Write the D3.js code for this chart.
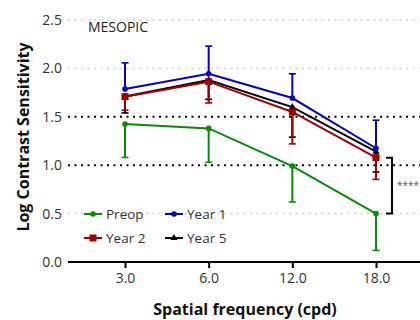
<!DOCTYPE html>
<html>
<head>
<meta charset="utf-8">
<script src="https://cdn.jsdelivr.net/npm/d3@7"></script>
<style>
  body { margin: 0; background: #fff; }
  text { font-family: "Open Sans", sans-serif; }
</style>
</head>
<body>
<script>
var svg_Width = 420;
var svg_Height = 320;

// data
var freqs = ["3.0", "6.0", "12.0", "18.0"];
var yTicks = [0, 0.5, 1.0, 1.5, 2.0, 2.5];
var preop = [1.425, 1.38, 0.99, 0.50];
var preopErr = [0.345, 0.35, 0.37, 0.38];
var year1 = [1.787, 1.945, 1.694, 1.175];
var year1Err = [0.27, 0.285, 0.25, 0.29];
var year2 = [1.708, 1.863, 1.55, 1.078];
var year2Err = [0.14, 0.22, 0.33, 0.225];
var year5 = [1.71, 1.88, 1.60, 1.14];
var year5Err = [0.17, 0.20, 0.31, 0.21];

var series = [
  { name: "Preop", vals: preop, err: preopErr, dir: -1, color: "#0a8a0a", shape: "circle" },
  { name: "Year 5", vals: year5, err: year5Err, dir: -1, color: "#000000", shape: "triangle" },
  { name: "Year 2", vals: year2, err: year2Err, dir: -1, color: "#a00000", shape: "square" },
  { name: "Year 1", vals: year1, err: year1Err, dir: 1, color: "#0000c8", shape: "circle" }
];

var svg = d3.select("body")
  .append("svg")
  .attr("width", svg_Width)
  .attr("height", svg_Height);

var x = d3.scaleLinear().domain([0, 3]).range([125, 376]);
var y = d3.scaleLinear().domain([0, 2.5]).range([262, 20]);
var plotLeft = 68, plotRight = 420;

// grid lines
svg.append("g").selectAll("line")
  .data(yTicks.filter(d => d > 0))
  .enter().append("line")
  .attr("x1", plotLeft).attr("x2", plotRight)
  .attr("y1", d => y(d)).attr("y2", d => y(d))
  .attr("stroke", d => (d === 1.0 || d === 1.5) ? "#000" : "#dcdcdc")
  .attr("stroke-width", 2)
  .attr("stroke-dasharray", "2,4.5");

// y tick labels
svg.append("g").selectAll("text")
  .data(yTicks)
  .enter().append("text")
  .attr("x", 62).attr("y", d => y(d))
  .attr("dy", "0.35em")
  .attr("text-anchor", "end")
  .attr("font-size", 14)
  .attr("fill", "#333")
  .text(d => d.toFixed(1));

// x axis
var xAxis = d3.axisBottom(x)
  .tickValues([0, 1, 2, 3])
  .tickFormat(i => freqs[i])
  .tickSize(6)
  .tickSizeOuter(0);
var gx = svg.append("g")
  .attr("transform", `translate(0, ${y(0)})`)
  .call(xAxis);
gx.select(".domain").remove();
gx.append("line")
  .attr("x1", plotLeft).attr("x2", plotRight)
  .attr("stroke", "#000").attr("stroke-width", 2);
gx.selectAll(".tick line").attr("stroke-width", 2);
gx.selectAll(".tick text")
  .attr("font-family", "Open Sans, sans-serif")
  .attr("font-size", 14)
  .attr("fill", "#333")
  .attr("y", 11);

// axis titles
svg.append("text")
  .attr("transform", "rotate(-90)")
  .attr("x", -137).attr("y", 29)
  .attr("text-anchor", "middle")
  .attr("font-size", 16)
  .attr("font-weight", "bold")
  .attr("fill", "#111")
  .text("Log Contrast Sensitivity");

svg.append("text")
  .attr("x", 245).attr("y", 315)
  .attr("text-anchor", "middle")
  .attr("font-size", 16)
  .attr("font-weight", "bold")
  .attr("fill", "#111")
  .text("Spatial frequency (cpd)");

svg.append("text")
  .attr("x", 88).attr("y", 27)
  .attr("dy", "0.35em")
  .attr("font-size", 14)
  .attr("fill", "#222")
  .text("MESOPIC");

function drawMarker(g, shape, cx, cy, color) {
  if (shape === "circle") {
    g.append("circle").attr("cx", cx).attr("cy", cy).attr("r", 2.8).attr("fill", color);
  } else if (shape === "square") {
    g.append("rect").attr("x", cx - 3.5).attr("y", cy - 3.5)
      .attr("width", 7).attr("height", 7).attr("fill", color);
  } else {
    g.append("path")
      .attr("d", d3.symbol().type(d3.symbolTriangle).size(22)())
      .attr("transform", `translate(${cx},${cy})`)
      .attr("fill", color);
  }
}

var line = d3.line()
  .x((d, i) => x(i))
  .y(d => y(d));

series.forEach(function (s) {
  var g = svg.append("g");
  // error bars (one-sided)
  s.vals.forEach(function (v, i) {
    var yEnd = y(v + s.dir * s.err[i]);
    g.append("line")
      .attr("x1", x(i)).attr("x2", x(i))
      .attr("y1", y(v)).attr("y2", yEnd)
      .attr("stroke", s.color).attr("stroke-width", 2);
    g.append("line")
      .attr("x1", x(i) - 3.5).attr("x2", x(i) + 3.5)
      .attr("y1", yEnd).attr("y2", yEnd)
      .attr("stroke", s.color).attr("stroke-width", 1.6);
  });
  g.append("path")
    .datum(s.vals)
    .attr("d", line)
    .attr("fill", "none")
    .attr("stroke", s.color)
    .attr("stroke-width", 2);
  s.vals.forEach(function (v, i) {
    drawMarker(g, s.shape, x(i), y(v), s.color);
  });
});

// significance bracket between Year 2 and Preop at 18.0
var bx = 392;
svg.append("path")
  .attr("d", `M${bx - 6},${y(year2[3])} H${bx} V${y(preop[3])} H${bx - 6}`)
  .attr("fill", "none")
  .attr("stroke", "#000")
  .attr("stroke-width", 2);
svg.append("text")
  .attr("x", 397).attr("y", (y(year2[3]) + y(preop[3])) / 2)
  .attr("dy", "0.35em")
  .attr("font-size", 10)
  .attr("fill", "#555")
  .text("****");

// legend
var legendItems = [
  { name: "Preop", color: "#0a8a0a", shape: "circle", lx: 84, ly: 214 },
  { name: "Year 1", color: "#0000c8", shape: "circle", lx: 165, ly: 214 },
  { name: "Year 2", color: "#a00000", shape: "square", lx: 84, ly: 238 },
  { name: "Year 5", color: "#000000", shape: "triangle", lx: 165, ly: 238 }
];
var legend = svg.append("g");
legendItems.forEach(function (d) {
  var g = legend.append("g");
  g.append("line")
    .attr("x1", d.lx).attr("x2", d.lx + 18)
    .attr("y1", d.ly).attr("y2", d.ly)
    .attr("stroke", d.color).attr("stroke-width", 2);
  drawMarker(g, d.shape, d.lx + 9, d.ly, d.color);
  g.append("text")
    .attr("x", d.lx + 22).attr("y", d.ly)
    .attr("dy", "0.35em")
    .attr("font-size", 13.5)
    .attr("fill", "#333")
    .text(d.name);
});
</script>
</body>
</html>
